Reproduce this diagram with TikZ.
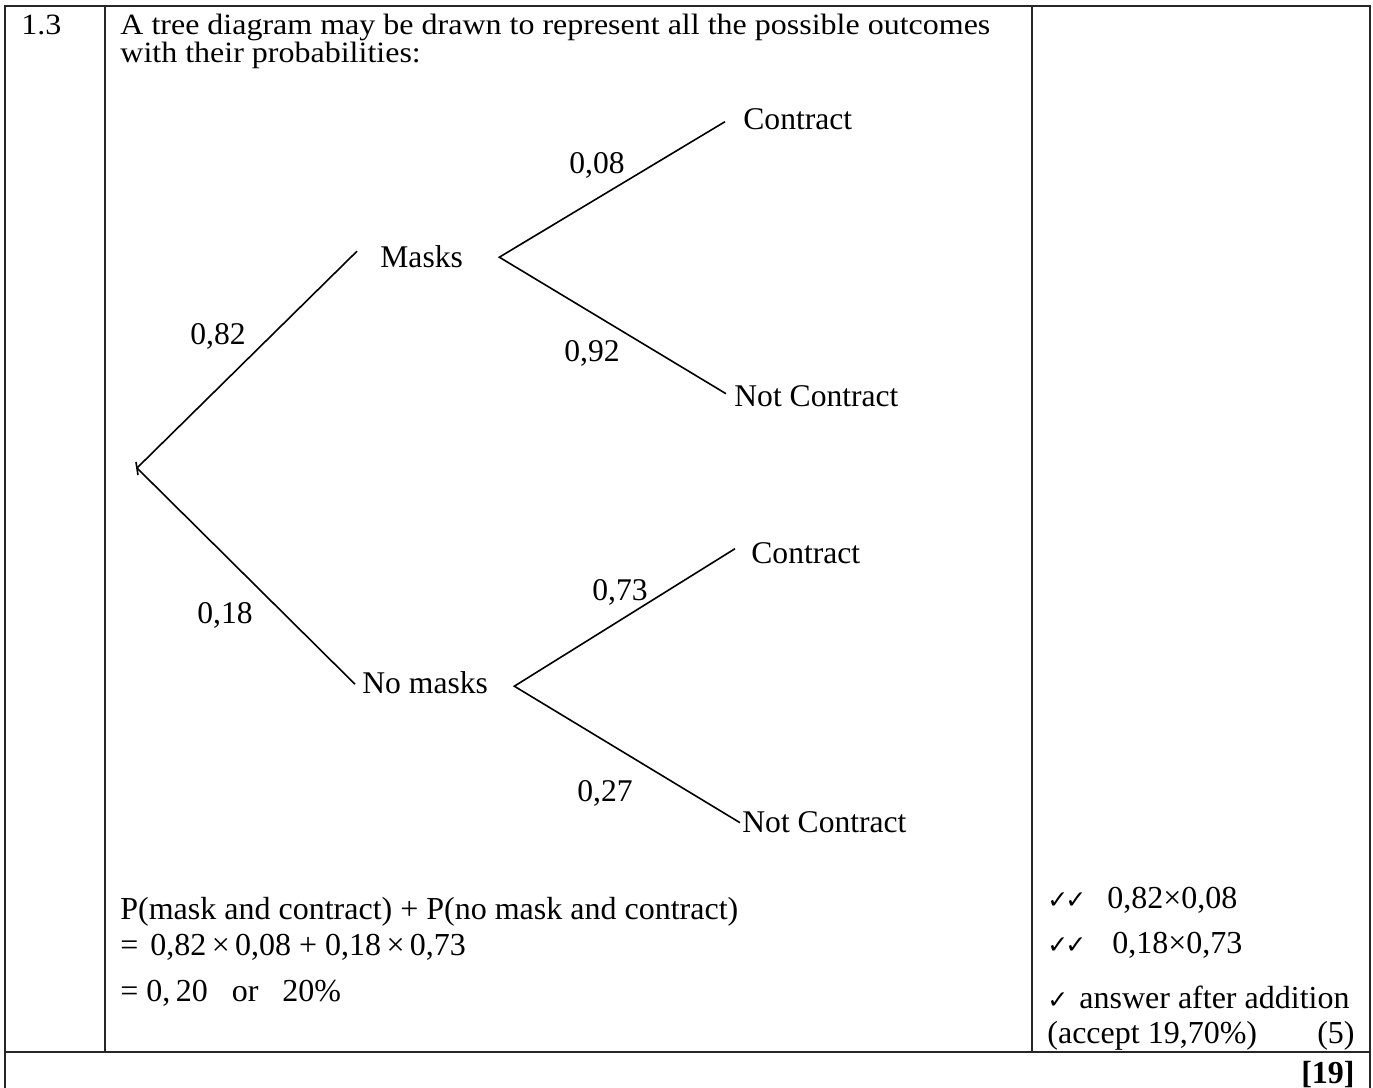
\documentclass[tikz,border=0pt]{standalone}
\usepackage{fontspec}
\setmainfont{Liberation Serif}
\newfontfamily\symfont{DejaVu Sans}
\usepackage{graphicx}
\usetikzlibrary{calc}
\newcommand{\tick}{\makebox[9pt][l]{\symfont\fontsize{12.5}{12.5}\selectfont ✓}}
\newcommand{\flatline}[1]{\scalebox{1}[0.92]{#1}}

\begin{document}
\begin{tikzpicture}[x=0.5pt,y=-0.5pt,
    every node/.style={inner sep=0pt},
    cell/.style={anchor=base west,font=\fontsize{16}{19}\selectfont},
    tree/.style={font=\fontsize{15.8}{19}\selectfont},
    branch/.style={line width=0.8pt}]
    \useasboundingbox (0,0) rectangle (1373,1088);
    % Draw table lines
    \draw[line width=1pt,black!85] (5,1088) -- (5,6) -- (1370,6) -- (1370,1088);
    \draw[line width=1pt,black!85] (5,1052) -- (1370,1052);
    \draw[line width=1pt,black!85] (105,6) -- (105,1052);
    \draw[line width=1pt,black!85] (1032,6) -- (1032,1052);

    % Question text
    \node[cell] (num) at (21,34) {\flatline{1.3}};
    \node[cell] (intro1) at (120,34) {\flatline{A tree diagram may be drawn to represent all the possible outcomes}};
    \node[cell] (intro2) at (120,62) {\flatline{with their probabilities:}};

    % Tree outcomes
    \coordinate (root) at (137,468);
    \node[tree,anchor=base west] (masks) at (380,267) {Masks};
    \node[tree,anchor=base west] (nomasks) at (362,693) {No masks};
    \node[tree,anchor=base west] (mcon) at (743,129) {Contract};
    \node[tree,anchor=base west] (mnot) at (734,406) {Not Contract};
    \node[tree,anchor=base west] (ncon) at (751,563) {Contract};
    \node[tree,anchor=base west] (nnot) at (742,832) {Not Contract};

    % Draw branches
    \draw[branch] (root) -- ($(masks.west)+(-23,-5)$);
    \draw[branch] (root) -- ($(nomasks.west)+(-7,2)$);
    \draw[branch] ($(mcon.west)+(-18,3)$) -- ($(masks.east)+(36,1)$) -- ($(mnot.west)+(-8,-2)$);
    \draw[branch] ($(ncon.west)+(-16,-4)$) -- ($(nomasks.east)+(26,4)$) -- ($(nnot.west)+(-2,1)$);
    \draw[branch] ($(root)+(-1,-6)$) -- ($(root)+(1,7)$); % small tick at root

    % Label probabilities
    \node[tree,anchor=base] (p82) at (218,344) {0,82};
    \node[tree,anchor=base] (p18) at (225,623) {0,18};
    \node[tree,anchor=base] (p08) at (597,173) {0,08};
    \node[tree,anchor=base] (p92) at (592,361) {0,92};
    \node[tree,anchor=base] (p73) at (620,600) {0,73};
    \node[tree,anchor=base] (p27) at (605,801) {0,27};

    % Working
    \node[cell] (sum) at (120,919) {P(mask and contract) + P(no mask and contract)};
    \node[cell] (line2) at (120,955) {=\hspace{6pt}0,82\,×\,0,08 + 0,18\,×\,0,73};
    \node[cell] (line3) at (120,1001) {= 0,\,20 \ \ or \ \ 20\%};

    % Marks
    \node[cell] (m1) at (1047,908) {\tick\tick\hspace{12pt}0,82×0,08};
    \node[cell] (m2) at (1047,953) {\tick\tick\hspace{14.5pt}0,18×0,73};
    \node[cell] (m3) at (1047,1008) {\tick\hspace{7pt}answer after addition};
    \node[cell] (m4) at (1047,1043) {(accept 19,70\%)};
    \node[cell,anchor=base east] (m5) at (1355,1043) {(5)};
    \node[cell,anchor=base east] (total) at (1355,1083) {\textbf{[19]}};
\end{tikzpicture}
\end{document}
